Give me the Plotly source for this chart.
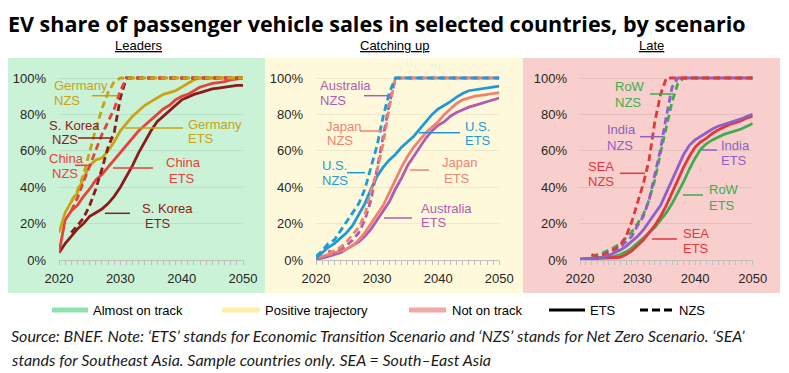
import plotly.graph_objects as go

# ---------------- data (EV share of sales, %) ----------------
YEARS = list(range(2020, 2051))
NZS_YEARS_2020 = list(range(2020, 2051))
NZS_YEARS_2022 = list(range(2022, 2051))

# Leaders
GER_ETS = [15, 26, 32, 37, 45, 52, 55, 56, 60, 65, 71, 75, 79, 82, 85, 87, 89, 91, 92, 93,
           95, 97, 99, 100, 100, 100, 100, 100, 100, 100, 100]
CHN_ETS = [4, 22, 27, 30, 35, 39, 44, 47, 51, 55, 59, 63, 67, 71, 74, 77, 80, 83, 85, 88,
           90, 91, 93, 95, 96, 97, 97.5, 98, 99, 99.5, 100]
KOR_ETS = [4, 9, 13, 17, 20, 24, 26, 28, 31, 35, 40, 46, 52, 59, 65, 71, 76, 79, 82, 85,
           88, 89.5, 91, 92, 93, 94, 94.5, 95, 95.5, 96, 96]
GER_NZS = [32, 38, 47, 60, 72, 83, 92, 98, 100, 100, 100, 100, 100, 100, 100, 100, 100, 100,
           100, 100, 100, 100, 100, 100, 100, 100, 100, 100, 100]
CHN_NZS = [27, 34, 43, 52, 60, 69, 76, 83, 93, 100, 100, 100, 100, 100, 100, 100, 100, 100,
           100, 100, 100, 100, 100, 100, 100, 100, 100, 100, 100]
KOR_NZS = [15, 19, 23, 30, 39, 50, 62, 70, 89, 100, 100, 100, 100, 100, 100, 100, 100, 100,
           100, 100, 100, 100, 100, 100, 100, 100, 100, 100, 100]

# Catching up
US_ETS = [1, 4, 7, 9, 12, 15, 19, 25, 31, 39, 46, 51, 55, 58, 62, 65, 68, 72, 76, 80,
          83, 85, 87, 89.5, 91.5, 93, 93.5, 94, 94.5, 95, 95.5]
JPN_ETS = [1, 2, 3, 4, 5, 6, 8, 11, 15, 20, 25, 30, 37, 44, 51, 57, 62, 66, 70, 73,
           76, 80, 83, 86, 88, 89, 90, 90.5, 91, 91.5, 92]
AUS_ETS = [0.5, 1, 2, 3, 4, 6, 8, 10, 13, 17, 22, 27, 32, 39, 45, 52, 57, 62, 67, 71,
           74, 76, 79, 81, 82.5, 84, 85, 86, 87, 88, 89]
US_NZS = [2, 5, 9, 11, 16, 21, 26, 31, 39, 51, 63, 79, 92, 100, 100, 100, 100, 100, 100, 100,
          100, 100, 100, 100, 100, 100, 100, 100, 100, 100, 100]
JPN_NZS = [3.5, 5, 7, 10, 14, 18, 25, 38, 49, 64, 84, 100, 100, 100, 100, 100, 100, 100,
           100, 100, 100, 100, 100, 100, 100, 100, 100, 100, 100]
AUS_NZS = [5, 4, 6, 8, 11, 15, 22, 33, 50, 67, 86, 100, 100, 100, 100, 100, 100, 100,
           100, 100, 100, 100, 100, 100, 100, 100, 100, 100, 100]

# Late
IND_ETS = [0.4, 0.6, 0.8, 1, 1.3, 2.5, 4, 5.5, 7.5, 10, 13, 16.5, 21, 25.5, 30, 37, 44, 51, 58, 63,
           66, 68, 70, 72, 73.5, 74.5, 75.5, 76.5, 77.5, 79, 80]
SEA_ETS = [0.4, 0.5, 0.6, 0.7, 0.8, 1, 1.2, 1.5, 3, 5, 8, 11, 15, 19, 24, 30, 37, 44, 51, 57,
           62, 65, 67, 69.5, 71.5, 73, 74.5, 75.5, 76.5, 78, 79]
ROW_ETS = [0.4, 0.6, 0.8, 1, 1.3, 1.6, 2, 3, 4.5, 6.5, 9, 12, 15, 18, 22, 26, 31, 37, 43, 50,
           56, 61, 64, 66, 67.5, 69, 70, 71, 72, 73.5, 75]
SEA_NZS = [3, 2, 3, 4.5, 6, 8, 13, 21, 31, 42, 55, 76, 91, 100, 100, 100, 100, 100,
           100, 100, 100, 100, 100, 100, 100, 100, 100, 100, 100]
IND_NZS = [1, 1.5, 2.5, 3.5, 4.5, 7, 10, 13, 19, 24, 33, 47, 61, 79, 95, 100, 100, 100,
           100, 100, 100, 100, 100, 100, 100, 100, 100, 100, 100]
ROW_NZS = [2, 3, 4, 5.5, 7, 9, 12, 15.5, 20, 25, 33, 44, 59, 73, 87, 97, 100, 100,
           100, 100, 100, 100, 100, 100, 100, 100, 100, 100, 100]

Y_TICKS = [0, 20, 40, 60, 80, 100]
Y_TICK_TEXT = ["0%", "20%", "40%", "60%", "80%", "100%"]
X_TICKS = [2020, 2030, 2040, 2050]
PANEL_TITLES = ["Leaders", "Catching up", "Late"]
LEGEND_LABELS = ["Almost on track", "Positive trajectory", "Not on track", "ETS", "NZS"]
TITLE = "EV share of passenger vehicle sales in selected countries, by scenario"
SOURCE_1 = "Source: BNEF. Note: \u2018ETS\u2019 stands for Economic Transition Scenario and \u2018NZS\u2019 stands for Net Zero Scenario. \u2018SEA\u2019"
SOURCE_2 = "stands for Southeast Asia. Sample countries only. SEA = South\u2013East Asia"

# ---------------- styling ----------------
PAGE_OFF = 8               # the page body margin offsets the figure by 8 px
W, H = 789 - PAGE_OFF, 373 - PAGE_OFF
C_GER = "#C9A314"
C_CHN = "#E8403A"
C_KOR = "#8E1B1B"
C_US = "#1E9BD7"
C_JPN = "#EE8375"
C_AUS = "#B05CB0"
C_IND = "#8C62C8"
C_SEA = "#E2373B"
C_ROW = "#3BAE4E"
BG = ["#C9F2D7", "#FFF9DB", "#F8CFCD"]
LEG_BOX = ["#8FE3B0", "#FFF0A6", "#F2A8A6"]
FONT = "Arial, 'Liberation Sans', sans-serif"
DASH = "7px,4px"


def px(x):
    return (x - PAGE_OFF) / W


def py(y):
    return 1 - (y - PAGE_OFF) / H


# plot areas (screen pixel): x of 2020 / 2050, y of 0% ; 100% at y=78
AX = [(59, 243), (316, 499.3), (580, 752.7)]
Y0, Y100 = 260, 78
YMAX = 102
y_top = Y0 - (Y0 - Y100) * YMAX / 100

fig = go.Figure()

series = [
    # (panel, years, values, color, dash)
    (1, YEARS, KOR_ETS, C_KOR, "solid"),
    (1, YEARS, CHN_ETS, C_CHN, "solid"),
    (1, YEARS, GER_ETS, C_GER, "solid"),
    (1, NZS_YEARS_2022, KOR_NZS, C_KOR, DASH),
    (1, NZS_YEARS_2022, CHN_NZS, C_CHN, DASH),
    (1, NZS_YEARS_2022, GER_NZS, C_GER, DASH),
    (2, YEARS, AUS_ETS, C_AUS, "solid"),
    (2, YEARS, JPN_ETS, C_JPN, "solid"),
    (2, YEARS, US_ETS, C_US, "solid"),
    (2, NZS_YEARS_2022, AUS_NZS, C_AUS, DASH),
    (2, NZS_YEARS_2022, JPN_NZS, C_JPN, DASH),
    (2, NZS_YEARS_2020, US_NZS, C_US, DASH),
    (3, YEARS, ROW_ETS, C_ROW, "solid"),
    (3, YEARS, SEA_ETS, C_SEA, "solid"),
    (3, YEARS, IND_ETS, C_IND, "solid"),
    (3, NZS_YEARS_2022, ROW_NZS, C_ROW, DASH),
    (3, NZS_YEARS_2022, IND_NZS, C_IND, DASH),
    (3, NZS_YEARS_2022, SEA_NZS, C_SEA, DASH),
]

for p, xs, ys, col, dash in series:
    sfx = "" if p == 1 else str(p)
    fig.add_trace(go.Scatter(
        x=xs, y=ys, mode="lines", xaxis="x" + sfx, yaxis="y" + sfx,
        line=dict(color=col, width=2.8, dash=dash), showlegend=False, hoverinfo="skip",
    ))

layout_axes = {}
for i, (xa, xb) in enumerate(AX):
    sfx = "" if i == 0 else str(i + 1)
    layout_axes["xaxis" + sfx] = dict(
        domain=[px(xa), px(xb)], range=[2020, 2050], anchor="y" + sfx, automargin=False,
        tickmode="array", tickvals=X_TICKS,
        ticks="outside", ticklen=4, tickcolor="#BFBFBF", tickwidth=1,
        minor=dict(dtick=1, tick0=2020, ticks="outside", ticklen=4, tickcolor="#BFBFBF", showgrid=False),
        showline=True, linecolor="#BFBFBF", linewidth=1, showgrid=False, zeroline=False,
        tickfont=dict(family=FONT, size=13, color="#262626"), ticklabelstandoff=2,
        fixedrange=True,
    )
    layout_axes["yaxis" + sfx] = dict(
        domain=[py(Y0), py(y_top)], range=[0, YMAX], anchor="x" + sfx, automargin=False,
        tickmode="array", tickvals=Y_TICKS, ticktext=Y_TICK_TEXT,
        showgrid=True, gridcolor="rgba(0,0,0,0.07)", gridwidth=1, zeroline=False,
        showline=False, ticks="", ticklabelstandoff=12,
        tickfont=dict(family=FONT, size=13, color="#262626"), fixedrange=True,
    )

shapes = []
# panel backgrounds
for (xa, xb), col in zip([(8, 265), (265, 523), (523, 780)], BG):
    shapes.append(dict(type="rect", xref="paper", yref="paper", x0=px(xa), x1=px(xb),
                       y0=py(293), y1=py(58), fillcolor=col, line=dict(width=0), layer="below"))

annotations = []
# title
annotations.append(dict(text="<b>" + TITLE + "</b>", x=px(7), y=py(8), xref="paper", yref="paper",
                        xanchor="left", yanchor="top", showarrow=False, borderpad=0,
                        font=dict(family="'Open Sans', Lato, sans-serif", size=21.5, color="#000000")))
# panel titles
for t, cx in zip(PANEL_TITLES, [138, 394, 651.5]):
    annotations.append(dict(text="<u>" + t + "</u>", x=px(cx), y=py(45), xref="paper", yref="paper",
                            xanchor="center", yanchor="middle", showarrow=False,
                            font=dict(family=FONT, size=13, color="#000000")))

# series labels: (text, left x px, center y px, color)
labels = [
    ("Germany", 52, 85, C_GER), ("NZS", 52, 100.7, C_GER),
    ("S. Korea", 47, 125.7, C_KOR), ("NZS", 50, 139.5, C_KOR),
    ("China", 47, 158, C_CHN), ("NZS", 50, 173, C_CHN),
    ("Germany", 186, 124, C_GER), ("ETS", 186, 138.5, C_GER),
    ("China", 164, 163, C_CHN), ("ETS", 167, 178, C_CHN),
    ("S. Korea", 140, 208, C_KOR), ("ETS", 143, 223, C_KOR),
    ("Australia", 318, 85, C_AUS), ("NZS", 318, 100.7, C_AUS),
    ("Japan", 324, 126.7, C_JPN), ("NZS", 325, 140.5, C_JPN),
    ("U.S.", 320, 165, C_US), ("NZS", 320, 180.7, C_US),
    ("U.S.", 463, 126.7, C_US), ("ETS", 463, 140.7, C_US),
    ("Japan", 440, 163, C_JPN), ("ETS", 442, 178, C_JPN),
    ("Australia", 419, 208, C_AUS), ("ETS", 419, 222.7, C_AUS),
    ("RoW", 613, 86.7, C_ROW), ("NZS", 613, 102, C_ROW),
    ("India", 605, 130, C_IND), ("NZS", 605, 145, C_IND),
    ("SEA", 586, 166.7, C_SEA), ("NZS", 586, 181.7, C_SEA),
    ("India", 719, 145, C_IND), ("ETS", 719, 160.7, C_IND),
    ("RoW", 707, 190, C_ROW), ("ETS", 707, 205, C_ROW),
    ("SEA", 681, 233, C_SEA), ("ETS", 681, 248, C_SEA),
]
for t, lx, cy, col in labels:
    annotations.append(dict(text=t, x=px(lx), y=py(cy), xref="paper", yref="paper",
                            xanchor="left", yanchor="middle", showarrow=False,
                            font=dict(family=FONT, size=13, color=col)))

# leader lines (x0, x1, y in px)
leaders = [
    (92, 117, 95.7, C_GER), (125, 183, 128, C_GER), (78, 112, 138, C_KOR),
    (75, 92, 165.3, C_CHN), (113, 153, 168, C_CHN), (105, 130, 213.3, C_KOR),
    (364, 387, 95.7, C_AUS), (360, 384, 131, C_JPN), (347, 365, 172.7, C_US),
    (419, 460, 132.7, C_US), (410, 429, 170, C_JPN), (384, 412, 218, C_AUS),
    (650, 673, 94, C_ROW), (640, 663, 136.7, C_IND), (620, 645, 173.3, C_SEA),
    (702, 717, 150, C_IND), (683, 703, 195, C_ROW), (652, 677, 239, C_SEA),
]
for x0, x1, yy, col in leaders:
    shapes.append(dict(type="line", xref="paper", yref="paper", x0=px(x0), x1=px(x1),
                       y0=py(yy), y1=py(yy), line=dict(color=col, width=1.5)))

# legend
LEG_Y = 310
for (bx0, bx1, tx), col, lab in zip([(52, 88, 91), (222, 260, 263), (409, 446, 450)], LEG_BOX, LEGEND_LABELS[:3]):
    shapes.append(dict(type="rect", xref="paper", yref="paper", x0=px(bx0), x1=px(bx1),
                       y0=py(LEG_Y + 2.5), y1=py(LEG_Y - 2.5), fillcolor=col, line=dict(width=0)))
    annotations.append(dict(text=lab, x=px(tx), y=py(LEG_Y), xref="paper", yref="paper",
                            xanchor="left", yanchor="middle", showarrow=False,
                            font=dict(family=FONT, size=13, color="#000000")))
shapes.append(dict(type="line", xref="paper", yref="paper", x0=px(549), x1=px(585),
                   y0=py(LEG_Y), y1=py(LEG_Y), line=dict(color="#000000", width=3)))
annotations.append(dict(text=LEGEND_LABELS[3], x=px(588), y=py(LEG_Y), xref="paper", yref="paper",
                        xanchor="left", yanchor="middle", showarrow=False,
                        font=dict(family=FONT, size=13, color="#000000")))
shapes.append(dict(type="line", xref="paper", yref="paper", x0=px(640), x1=px(672),
                   y0=py(LEG_Y), y1=py(LEG_Y), line=dict(color="#000000", width=3, dash="8px,4px")))
annotations.append(dict(text=LEGEND_LABELS[4], x=px(677), y=py(LEG_Y), xref="paper", yref="paper",
                        xanchor="left", yanchor="middle", showarrow=False,
                        font=dict(family=FONT, size=13, color="#000000")))

# source
for t, yy in [(SOURCE_1, 335), (SOURCE_2, 359)]:
    annotations.append(dict(text="<i>" + t + "</i>", x=px(9), y=py(yy), xref="paper", yref="paper",
                            xanchor="left", yanchor="middle", showarrow=False,
                            font=dict(family="Lato, sans-serif", size=16, color="#1a1a1a")))

fig.update_layout(
    width=W, height=H, margin=dict(l=0, r=0, t=0, b=0, pad=0, autoexpand=False),
    paper_bgcolor="white", plot_bgcolor="rgba(0,0,0,0)",
    shapes=shapes, annotations=annotations, showlegend=False,
    **layout_axes,
)

fig.write_html("out.html", config={"displayModeBar": False})
